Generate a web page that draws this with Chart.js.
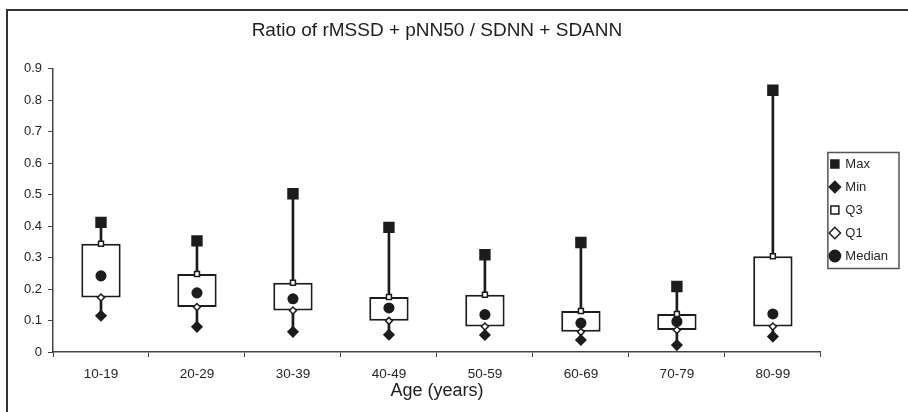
<!DOCTYPE html>
<html>
<head>
<meta charset="utf-8">
<script src="https://cdn.jsdelivr.net/npm/chart.js@4.4.1/dist/chart.umd.min.js"></script>
<style>
  html, body { margin: 0; padding: 0; background: #fff; }
  #wrap { position: relative; width: 908px; height: 412px; overflow: hidden; }
  #frame { position: absolute; left: 6px; top: 9px; width: 940px; height: 440px;
           border-top: 2px solid #333; border-left: 2px solid #333; }
  canvas { position: absolute; left: 0; top: 0; }
</style>
</head>
<body>
<div id="wrap">
  <div id="frame"></div>
  <canvas id="grafica"></canvas>
</div>
<script>
// valores
const categories = ["10-19", "20-29", "30-39", "40-49", "50-59", "60-69", "70-79", "80-99"];
const maxVals    = [0.412, 0.353, 0.503, 0.396, 0.309, 0.348, 0.208, 0.832];
const q3Vals     = [0.344, 0.248, 0.220, 0.175, 0.182, 0.130, 0.121, 0.304];
const medianVals = [0.242, 0.188, 0.169, 0.140, 0.119, 0.092, 0.097, 0.121];
const q1Vals     = [0.173, 0.143, 0.132, 0.099, 0.081, 0.064, 0.070, 0.081];
const minVals    = [0.115, 0.080, 0.064, 0.055, 0.054, 0.038, 0.022, 0.049];
const yTicks     = [0, 0.1, 0.2, 0.3, 0.4, 0.5, 0.6, 0.7, 0.8, 0.9];

const ink = "#1c1c1c";
const txt = "#262626";
const fam = "'Liberation Sans', Arial, sans-serif";

// caja alrededor de la leyenda
const legendFrame = {
    id: "legendFrame",
    afterDraw(chart) {
        const boxes = chart.legend && chart.legend.legendHitBoxes;
        if (!boxes || !boxes.length) return;
        let l = Infinity, t = Infinity, r = -Infinity, b = -Infinity;
        boxes.forEach(h => {
            l = Math.min(l, h.left); t = Math.min(t, h.top);
            r = Math.max(r, h.left + h.width); b = Math.max(b, h.top + h.height);
        });
        const ctx = chart.ctx;
        ctx.save();
        ctx.strokeStyle = "#555";
        ctx.lineWidth = 1.5;
        ctx.strokeRect(l - 3, t - 5, (r - l) + 14, (b - t) + 11);
        ctx.restore();
    }
};

const pointSet = (label, data, style, radius, fill) => ({
    type: "line",
    label: label,
    data: data,
    showLine: false,
    pointStyle: style,
    pointRadius: radius,
    pointHoverRadius: radius,
    pointBackgroundColor: fill,
    pointBorderColor: ink,
    pointBorderWidth: 1.5,
    backgroundColor: fill,
    borderColor: ink,
    borderWidth: 1.5,
    order: 0
});

new Chart(document.getElementById("grafica"), {
    type: "bar",
    data: {
        labels: categories,
        datasets: [
            { label: "whiskerHi", data: q3Vals.map((v, i) => [v, maxVals[i]]),
              backgroundColor: ink, borderWidth: 0, barThickness: 2, grouped: false, order: 2 },
            { label: "whiskerLo", data: minVals.map((v, i) => [v, q1Vals[i]]),
              backgroundColor: ink, borderWidth: 0, barThickness: 2, grouped: false, order: 2 },
            { label: "box", data: q1Vals.map((v, i) => [v, q3Vals[i]]),
              backgroundColor: "#fff", borderColor: ink, borderWidth: 2, borderSkipped: false,
              categoryPercentage: 1, barPercentage: 0.41, grouped: false, order: 1 },
            pointSet("Max", maxVals, "rect", 7, ink),
            pointSet("Min", minVals, "rectRot", 5, ink),
            pointSet("Q3", q3Vals, "rect", 3.5, "#fff"),
            pointSet("Q1", q1Vals, "rectRot", 3.5, "#fff"),
            pointSet("Median", medianVals, "circle", 4.8, ink)
        ]
    },
    options: {
        responsive: true,
        maintainAspectRatio: false,
        animation: false,
        layout: { padding: { left: 0, right: 10, top: 18, bottom: 10 } },
        plugins: {
            tooltip: { enabled: false },
            title: {
                display: true,
                fullSize: false,
                text: "Ratio of rMSSD + pNN50 / SDNN + SDANN",
                color: "#1e1e1e",
                font: { family: fam, size: 19, weight: "normal" },
                padding: { top: 1, bottom: 27 }
            },
            legend: {
                position: "right",
                labels: {
                    usePointStyle: true,
                    boxWidth: 8,
                    boxHeight: 8,
                    padding: 10,
                    color: txt,
                    font: { family: fam, size: 13 },
                    filter: item => ["Max", "Min", "Q3", "Q1", "Median"].includes(item.text)
                }
            }
        },
        scales: {
            x: {
                grid: { drawOnChartArea: false, drawTicks: true, tickLength: 5, color: "#444", offset: true },
                border: { display: true, color: "#444", width: 1.5 },
                ticks: { color: txt, font: { family: fam, size: 13.5 }, padding: 9 },
                title: { display: true, text: "Age (years)", color: "#1e1e1e",
                         font: { family: fam, size: 18 }, padding: { top: 0, bottom: 0 } },
                afterFit: s => { s.height = 50; }
            },
            y: {
                min: 0,
                max: 0.9,
                afterBuildTicks: s => { s.ticks = yTicks.map(v => ({ value: v })); },
                grid: { drawOnChartArea: false, drawTicks: true, tickLength: 5, color: "#444" },
                border: { display: true, color: "#444", width: 1.5 },
                ticks: { color: txt, font: { family: fam, size: 13 }, padding: 6,
                         callback: v => v === 0 ? "0" : Number(v).toFixed(1) },
                afterFit: s => { s.width = 53; }
            }
        }
    },
    plugins: [legendFrame]
});
</script>
</body>
</html>
